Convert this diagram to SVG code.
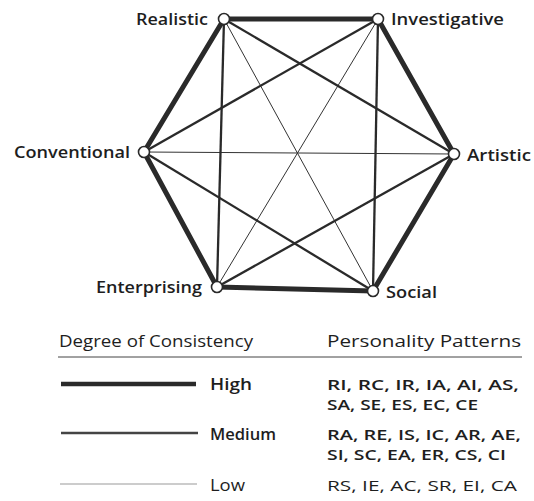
<svg xmlns="http://www.w3.org/2000/svg" width="534" height="501" viewBox="0 0 534 501">
<style>
text{font-family:"Open Sans","Noto Sans",sans-serif;font-size:17px;fill:#1e1e1e}
.lbl{font-weight:600}
.pat{font-size:15px}
.hi{stroke:#2a2a2a;stroke-width:5;stroke-linecap:round}
.md{stroke:#2a2a2a;stroke-width:2.3}
.lo{stroke:#333;stroke-width:1}
.node{fill:#fff;stroke:#2a2a2a;stroke-width:1.6}
</style>
<rect width="534" height="501" fill="#fff"/>
<g id="connectors">
<line class="lo" x1="224" y1="19" x2="373" y2="291"/>
<line class="lo" x1="378" y1="19" x2="217" y2="287"/>
<line class="lo" x1="144" y1="152" x2="454" y2="154"/>
<line class="md" x1="224" y1="19" x2="454" y2="154"/>
<line class="md" x1="224" y1="19" x2="217" y2="287"/>
<line class="md" x1="378" y1="19" x2="373" y2="291"/>
<line class="md" x1="378" y1="19" x2="144" y2="152"/>
<line class="md" x1="144" y1="152" x2="373" y2="291"/>
<line class="md" x1="217" y1="287" x2="454" y2="154"/>
<line class="hi" x1="224" y1="19" x2="378" y2="19"/>
<line class="hi" x1="378" y1="19" x2="454" y2="154"/>
<line class="hi" x1="454" y1="154" x2="373" y2="291"/>
<line class="hi" x1="373" y1="291" x2="217" y2="287"/>
<line class="hi" x1="217" y1="287" x2="144" y2="152"/>
<line class="hi" x1="144" y1="152" x2="224" y2="19"/>
</g>
<g id="realistic"><circle class="node" cx="224" cy="19" r="5.5"/><text class="lbl" x="136" y="25" textLength="72" lengthAdjust="spacingAndGlyphs">Realistic</text></g>
<g id="investigative"><circle class="node" cx="378" cy="19" r="5.5"/><text class="lbl" x="391" y="25" textLength="113" lengthAdjust="spacingAndGlyphs">Investigative</text></g>
<g id="conventional"><circle class="node" cx="144" cy="152" r="5.5"/><text class="lbl" x="14" y="158" textLength="116" lengthAdjust="spacingAndGlyphs">Conventional</text></g>
<g id="artistic"><circle class="node" cx="454" cy="154" r="5.5"/><text class="lbl" x="467" y="161" textLength="64" lengthAdjust="spacingAndGlyphs">Artistic</text></g>
<g id="enterprising"><circle class="node" cx="217" cy="287" r="5.5"/><text class="lbl" x="96" y="293" textLength="106" lengthAdjust="spacingAndGlyphs">Enterprising</text></g>
<g id="social"><circle class="node" cx="373" cy="291" r="5.5"/><text class="lbl" x="386" y="298" textLength="51" lengthAdjust="spacingAndGlyphs">Social</text></g>
<g id="legend">
<text x="59" y="347" textLength="194" lengthAdjust="spacingAndGlyphs">Degree of Consistency</text>
<text x="327" y="347" textLength="194" lengthAdjust="spacingAndGlyphs">Personality Patterns</text>
<line x1="58" y1="357" x2="522" y2="357" stroke="#444" stroke-width="1"/>
<line x1="61" y1="384" x2="196" y2="384" stroke="#2a2a2a" stroke-width="4.5"/>
<text class="lbl" x="210" y="390" textLength="42" lengthAdjust="spacingAndGlyphs">High</text>
<text class="lbl pat" x="327" y="390" textLength="192" lengthAdjust="spacingAndGlyphs">RI, RC, IR, IA, AI, AS,</text>
<text class="lbl pat" x="327" y="410" textLength="151" lengthAdjust="spacingAndGlyphs">SA, SE, ES, EC, CE</text>
<line x1="61" y1="433" x2="198" y2="433" stroke="#444" stroke-width="2.3"/>
<text class="lbl" x="210" y="440" textLength="66" lengthAdjust="spacingAndGlyphs">Medium</text>
<text class="lbl pat" x="327" y="440" textLength="194" lengthAdjust="spacingAndGlyphs">RA, RE, IS, IC, AR, AE,</text>
<text class="lbl pat" x="327" y="460" textLength="179" lengthAdjust="spacingAndGlyphs">SI, SC, EA, ER, CS, CI</text>
<line x1="60" y1="484" x2="197" y2="484" stroke="#999" stroke-width="1.2"/>
<text x="210" y="491" textLength="35" lengthAdjust="spacingAndGlyphs">Low</text>
<text class="pat" x="327" y="491" textLength="190" lengthAdjust="spacingAndGlyphs">RS, IE, AC, SR, EI, CA</text>
</g>
</svg>
